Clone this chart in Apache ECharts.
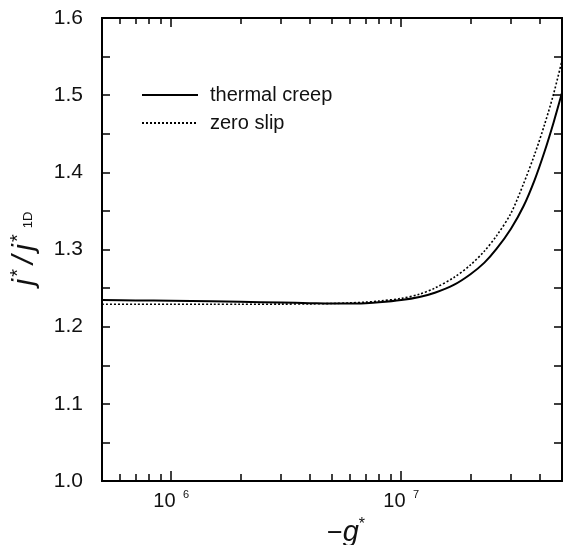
<!DOCTYPE html>
<html><head><meta charset="utf-8">
<script src="https://cdn.jsdelivr.net/npm/echarts@6/dist/echarts.min.js"></script>
<style>html,body{margin:0;padding:0;background:#fff}#c{width:563px;height:545px}</style>
</head><body><div id="c"></div>
<script>
// ---- data ----
const gValues = [5e5, 7e5, 1e6, 1.5e6, 2e6, 3e6, 4e6, 5e6, 6e6, 7e6, 8e6, 1e7, 1.2e7, 1.4e7, 1.7e7, 2e7, 2.3e7, 2.6e7, 3e7, 3.4e7, 3.8e7, 4.2e7, 4.6e7, 5e7];
const thermalCreep = [1.2345, 1.2340, 1.2335, 1.2328, 1.2322, 1.2312, 1.2305, 1.2300, 1.2300, 1.2305, 1.2315, 1.2345, 1.2385, 1.2440, 1.2545, 1.2680, 1.2830, 1.3010, 1.3270, 1.3560, 1.3900, 1.4270, 1.4650, 1.5030];
const zeroSlip = [1.2290, 1.2290, 1.2290, 1.2290, 1.2290, 1.2292, 1.2295, 1.2300, 1.2308, 1.2318, 1.2332, 1.2366, 1.2420, 1.2500, 1.2640, 1.2800, 1.2980, 1.3180, 1.3470, 1.3850, 1.4230, 1.4620, 1.5020, 1.5450];
const seriesNames = ['thermal creep', 'zero slip'];
const xMajorTicks = [1e6, 1e7];
const xMinorTicks = [6e5, 7e5, 8e5, 9e5, 2e6, 3e6, 4e6, 5e6, 6e6, 7e6, 8e6, 9e6, 2e7, 3e7, 4e7];
const xMajorExponents = {1000000: '6', 10000000: '7'};
const yMin = 1.0, yMax = 1.6, yTickStep = 0.05;
const xMin = 5e5, xMax = 5e7;

const FONT = '"Liberation Sans", Arial, sans-serif';
const chart = echarts.init(document.getElementById('c'), null, {renderer: 'canvas'});

function pairs(xs, ys) { return xs.map((x, i) => [x, ys[i]]); }

const axisLine = {show: true, lineStyle: {color: '#000', width: 2}};
function xAxisCfg(pos, ticks, len, withLabels) {
  return {
    type: 'log', logBase: 10, min: xMin, max: xMax, position: pos,
    axisLine: axisLine,
    axisTick: {show: true, inside: true, length: len, customValues: ticks, lineStyle: {color: '#000', width: 1.5}},
    axisLabel: withLabels ? {
      show: true, customValues: xMajorTicks, margin: 8,
      formatter: v => '{b|10 }{s|' + (xMajorExponents[Math.round(v)] || '') + '}',
      rich: {
        b: {fontFamily: FONT, fontSize: 20, color: '#111', verticalAlign: 'bottom', lineHeight: 22},
        s: {fontFamily: FONT, fontSize: 11, color: '#111', verticalAlign: 'top', lineHeight: 22, padding: [0, 0, 0, 2]}
      }
    } : {show: false},
    splitLine: {show: false},
    minorTick: {show: false}
  };
}

const xAxes = [
  Object.assign(xAxisCfg('bottom', xMajorTicks, 10, true), {
    name: '{n|\u2212}{g|g}{s|*}', nameLocation: 'middle', nameGap: 36,
    nameTextStyle: {
      padding: [0, 0, 0, 28],
      rich: {
        n: {fontFamily: FONT, fontSize: 27, color: '#111', verticalAlign: 'bottom', lineHeight: 30},
        g: {fontFamily: FONT, fontSize: 29, fontStyle: 'italic', color: '#111', verticalAlign: 'bottom', lineHeight: 30},
        s: {fontFamily: FONT, fontSize: 16, color: '#111', verticalAlign: 'top', lineHeight: 30}
      }
    }
  }),
  xAxisCfg('bottom', xMinorTicks, 7, false),
  xAxisCfg('top', xMajorTicks, 9, false),
  xAxisCfg('top', xMinorTicks, 6, false)
];

function yAxisCfg(pos, withLabels) {
  return {
    type: 'value', min: yMin, max: yMax, interval: yTickStep, position: pos,
    axisLine: axisLine,
    axisTick: {show: true, inside: true, length: 8, lineStyle: {color: '#000', width: 1.5}},
    axisLabel: withLabels ? {
      show: true, margin: 19, fontFamily: FONT, fontSize: 21, color: '#111',
      formatter: v => Math.abs(v * 10 - Math.round(v * 10)) < 1e-6 ? v.toFixed(1) : ''
    } : {show: false},
    splitLine: {show: false}
  };
}

const yAxes = [
  Object.assign(yAxisCfg('left', true), {
    name: '{i|j}{s|*}{n|/}{i|j}{s|*}{d|1D}', nameLocation: 'middle', nameRotate: 90, nameGap: 60,
    nameTextStyle: {
      rich: {
        i: {fontFamily: FONT, fontSize: 30, fontStyle: 'italic', color: '#111', verticalAlign: 'middle', lineHeight: 34, padding: [0, 2, 0, 2]},
        n: {fontFamily: FONT, fontSize: 30, fontStyle: 'italic', color: '#111', verticalAlign: 'middle', lineHeight: 34, padding: [0, 3, 0, 3]},
        s: {fontFamily: FONT, fontSize: 20, color: '#111', verticalAlign: 'top', lineHeight: 34, padding: [0, 2, 0, 0]},
        d: {fontFamily: FONT, fontSize: 13, color: '#111', verticalAlign: 'middle', lineHeight: 34, padding: [6, 0, 0, 4]}
      }
    }
  }),
  yAxisCfg('right', false)
];

chart.setOption({
  animation: false,
  backgroundColor: '#fff',
  grid: {left: 102, right: 1, top: 18, bottom: 64, containLabel: false, outerBoundsMode: 'none'},
  legend: {
    show: true, orient: 'vertical', left: 141, top: 85, padding: 0,
    itemWidth: 56, itemHeight: 14, itemGap: 8,
    data: seriesNames,
    itemStyle: {opacity: 0},
    textStyle: {fontFamily: FONT, fontSize: 20, color: '#111', padding: [0, 0, 0, 7]}
  },
  xAxis: xAxes,
  yAxis: yAxes,
  series: [
    {
      name: seriesNames[0], type: 'line', xAxisIndex: 0, yAxisIndex: 0,
      data: pairs(gValues, thermalCreep), showSymbol: false, symbol: 'none', smooth: 0.3,
      lineStyle: {color: '#000', width: 2, type: 'solid'}, itemStyle: {color: '#000'}
    },
    {
      name: seriesNames[1], type: 'line', xAxisIndex: 0, yAxisIndex: 0,
      data: pairs(gValues, zeroSlip), showSymbol: false, symbol: 'none', smooth: 0.3,
      lineStyle: {color: '#000', width: 1.6, type: [2, 2]}, itemStyle: {color: '#000'}
    }
  ]
});
</script></body></html>
